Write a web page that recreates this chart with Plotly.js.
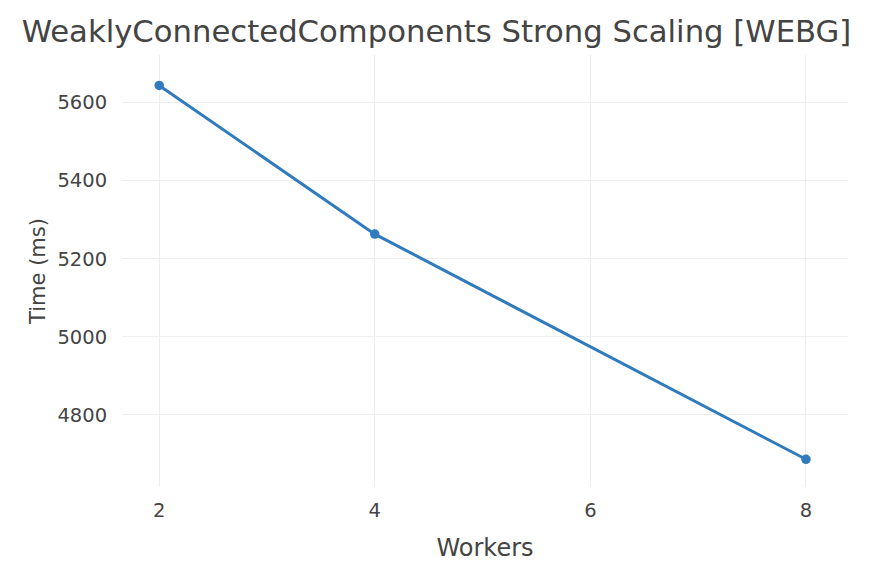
<!DOCTYPE html>
<html>
<head>
<meta charset="utf-8">
<script src="https://cdn.plot.ly/plotly-3.0.1.min.js"></script>
<style>html,body{margin:0;padding:0;background:#fff;}#chart{width:873px;height:562px;}</style>
</head>
<body>
<div id="chart"></div>
<script>
const workers = [2, 4, 8];
const timeMs = [5644, 5263, 4686];
const xTicks = [2, 4, 6, 8];
const yTicks = [4800, 5000, 5200, 5400, 5600];

const trace = {
  x: workers,
  y: timeMs,
  type: 'scatter',
  mode: 'lines+markers',
  line: {color: '#2f7bbd', width: 3},
  marker: {color: '#2f7bbd', size: 9.5}
};

const layout = {
  width: 873,
  height: 562,
  margin: {l: 122, r: 25, t: 55, b: 75},
  paper_bgcolor: '#fff',
  plot_bgcolor: '#fff',
  font: {family: 'DejaVu Sans, sans-serif', color: '#444'},
  title: {text: 'WeaklyConnectedComponents Strong Scaling [WEBG]', font: {size: 30.7, color: '#444'}, x: 0.5, xanchor: 'center', y: 0.945, yanchor: 'middle'},
  xaxis: {
    range: [1.655, 8.39],
    tickvals: xTicks,
    showgrid: true, gridcolor: '#eee', zeroline: false, showline: false,
    tickfont: {size: 19.5, color: '#444'},
    title: {text: 'Workers', font: {size: 24, color: '#444'}, standoff: 18},
    ticks: 'outside', ticklen: 6, tickcolor: 'rgba(0,0,0,0)'
  },
  yaxis: {
    range: [4615, 5722],
    tickvals: yTicks,
    showgrid: true, gridcolor: '#eee', zeroline: false, showline: false,
    tickfont: {size: 19.5, color: '#444'},
    title: {text: 'Time (ms)', font: {size: 21, color: '#444'}, standoff: 6},
    ticks: 'outside', ticklen: 10, tickcolor: 'rgba(0,0,0,0)'
  },
  showlegend: false
};

Plotly.newPlot('chart', [trace], layout, {displayModeBar: false, staticPlot: true});
</script>
</body>
</html>
